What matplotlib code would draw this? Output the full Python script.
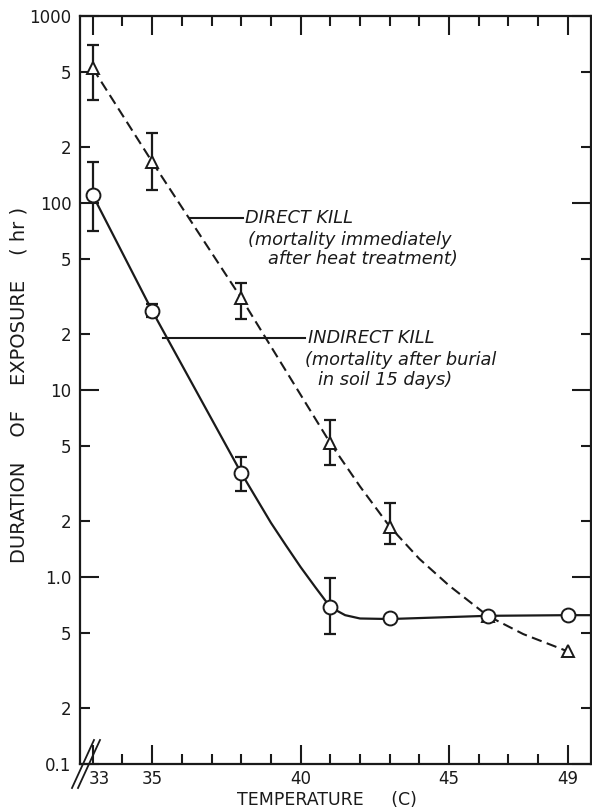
import numpy as np
import matplotlib
matplotlib.use('Agg')
import matplotlib.pyplot as plt
import matplotlib.transforms as mtransforms
from matplotlib.lines import Line2D

# Direct kill (triangles, dashed curve)
direct_temp = [33, 35, 38, 41, 43, 46.3, 49]
direct_hr = [525, 166, 31, 5.2, 1.86, 0.62, 0.40]
direct_err_lo = [356, 118, 24, 3.97, 1.50]   # error bars on first five points
direct_err_hi = [700, 237, 37.5, 6.9, 2.49]

# Indirect kill (circles, solid curve)
indirect_temp = [33, 35, 38, 41, 43, 46.3, 49]
indirect_hr = [110, 26.5, 3.6, 0.69, 0.60, 0.62, 0.625]
indirect_err_lo = [71, 24.5, 2.9, 0.495]     # error bars on first four points
indirect_err_hi = [165, 29, 4.4, 0.99]

# hand-drawn curves
direct_curve_temp = [33, 35, 38, 41, 42, 43, 44, 45, 46.3, 47.5, 49]
direct_curve_hr = [525, 166, 31, 5.2, 3.05, 1.86, 1.25, 0.90, 0.62, 0.495, 0.40]
indirect_curve_temp = [33, 35, 38, 39, 39.5, 40, 40.5, 41, 41.5, 42, 43, 46.3, 49, 49.8]
indirect_curve_hr = [110, 26.5, 3.6, 1.95, 1.48, 1.13, 0.88, 0.69, 0.625, 0.60, 0.596, 0.62, 0.625, 0.625]

xticks = [33, 35, 40, 45, 49]
xminor = [34, 36, 37, 38, 39, 41, 42, 43, 44, 46, 47, 48]
ymajor = [0.1, 1, 10, 100, 1000]
ymajor_labels = ['0.1', '1.0', '10', '100', '1000']
yminor = [0.2, 0.5, 2, 5, 20, 50, 200, 500]
yminor_labels = ['2', '5'] * 4

ink = '#1a1a1a'

fig = plt.figure(figsize=(5.92, 8.10), dpi=100)
ax = fig.add_axes([80 / 592, 46 / 810, 511 / 592, 748 / 810])
ax.set_yscale('log')
ax.set_xlim(32.57, 49.78)
ax.set_ylim(0.1, 1000)

ax.plot(direct_curve_temp, direct_curve_hr, color=ink, lw=1.5, dashes=(5, 2.6), zorder=2)
ax.plot(indirect_curve_temp, indirect_curve_hr, color=ink, lw=1.6, zorder=2)

d = np.array(direct_hr[:5])
ax.errorbar(direct_temp[:5], d, yerr=[d - np.array(direct_err_lo), np.array(direct_err_hi) - d],
            fmt='none', ecolor=ink, elinewidth=1.6, capsize=4.5, capthick=1.6, zorder=3)
i = np.array(indirect_hr[:4])
ax.errorbar(indirect_temp[:4], i, yerr=[i - np.array(indirect_err_lo), np.array(indirect_err_hi) - i],
            fmt='none', ecolor=ink, elinewidth=1.6, capsize=4.5, capthick=1.6, zorder=3)

ax.plot(direct_temp, direct_hr, linestyle='none', marker='^', ms=8, mfc='white', mec=ink, mew=1.4, zorder=4)
ax.plot(indirect_temp, indirect_hr, linestyle='none', marker='o', ms=10, mfc='white', mec=ink, mew=1.4, zorder=5)

# ticks
ax.set_xticks(xticks)
ax.set_xticklabels([str(t) for t in xticks])
ax.set_xticks(xminor, minor=True)
ax.set_yticks(ymajor)
ax.set_yticklabels(ymajor_labels)
ax.set_yticks(yminor, minor=True)
ax.set_yticklabels(yminor_labels, minor=True)
ax.tick_params(which='both', direction='in', top=True, right=True, width=1.5, color=ink,
               labelcolor=ink, labelsize=12)
ax.tick_params(which='major', length=14)
ax.tick_params(which='minor', length=7)
ax.tick_params(axis='x', which='both', pad=4)
ax.tick_params(axis='y', which='both', pad=6)
for s in ax.spines.values():
    s.set_linewidth(1.6)
    s.set_color(ink)

# nudge the "33" label right of the axis break
lbl = ax.get_xticklabels()[0]
lbl.set_transform(lbl.get_transform() + mtransforms.ScaledTranslation(7 / 100, 0, fig.dpi_scale_trans))

# axis break marks
for dx in (0, 6):
    fig.add_artist(Line2D([(72 + dx) / 592, (94 + dx) / 592], [1 - 788 / 810, 1 - 740 / 810],
                          transform=fig.transFigure, color=ink, lw=1.3))

fig.text(327 / 592, 1 - 800 / 810, 'TEMPERATURE     (C)', ha='center', va='center',
         fontsize=12.5, color=ink)
fig.text(19 / 592, 1 - 385 / 810, 'DURATION    OF    EXPOSURE    ( hr )', rotation=90,
         ha='center', va='center', fontsize=14, color=ink)

# annotations
ax.plot([36.27, 38.06], [83, 83], color=ink, lw=1.5)
ax.text(38.13, 83, 'DIRECT KILL', fontsize=12.8, style='italic', va='center', color=ink)
ax.text(38.23, 63.4, '(mortality immediately', fontsize=12.8, style='italic', va='center', color=ink)
ax.text(38.9, 50, 'after heat treatment)', fontsize=12.8, style='italic', va='center', color=ink)

ax.plot([35.37, 40.15], [19, 19], color=ink, lw=1.5)
ax.text(40.25, 19, 'INDIRECT KILL', fontsize=12.8, style='italic', va='center', color=ink)
ax.text(40.15, 14.4, '(mortality after burial', fontsize=12.8, style='italic', va='center', color=ink)
ax.text(40.6, 11.3, 'in soil 15 days)', fontsize=12.8, style='italic', va='center', color=ink)

fig.savefig('out.png', dpi=100)
